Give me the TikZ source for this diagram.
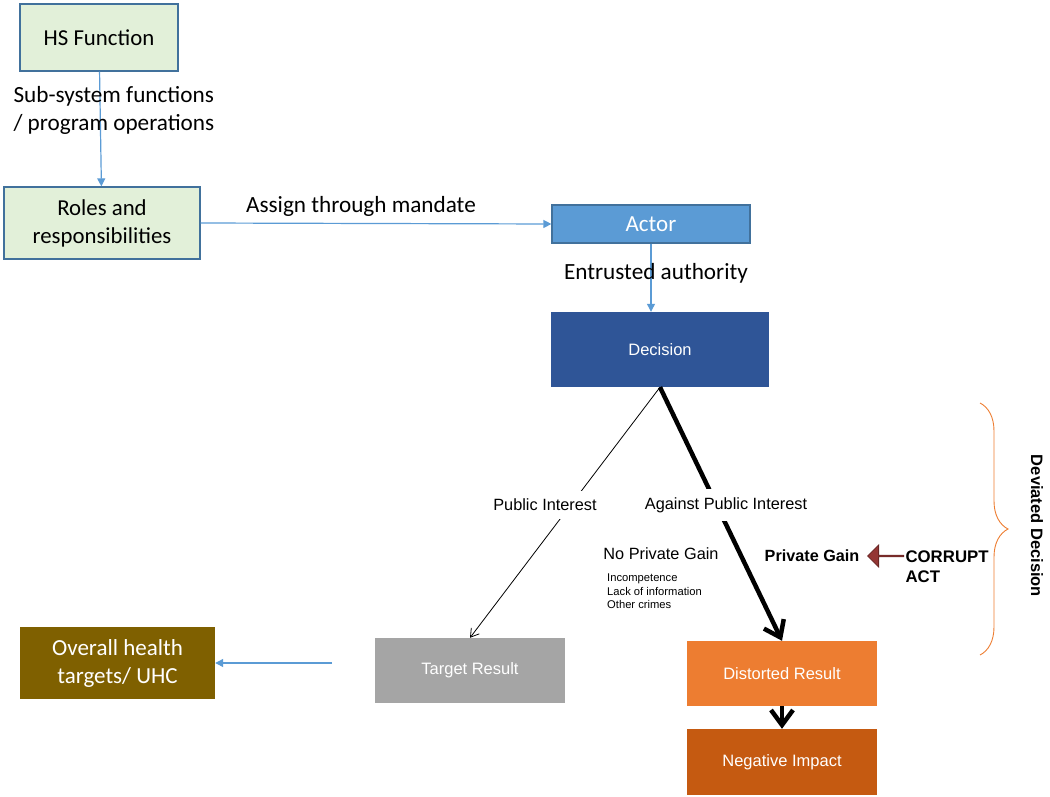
\documentclass[tikz,border=0pt]{standalone}
\usepackage{fontspec}
\setmainfont{Liberation Sans}
\newfontfamily\calfont{Carlito}
\usetikzlibrary{arrows.meta,decorations.pathreplacing,shapes.arrows}
\definecolor{gfill}{HTML}{E2F0D9}
\definecolor{bborder}{HTML}{41719C}
\definecolor{lblue}{HTML}{5B9BD5}
\definecolor{dblue}{HTML}{2F5597}
\definecolor{grey}{HTML}{A5A5A5}
\definecolor{orng}{HTML}{ED7D31}
\definecolor{dorng}{HTML}{C55A11}
\definecolor{olive}{HTML}{7F6000}
\definecolor{brick}{HTML}{943634}
\tikzset{
  greenbox/.style={draw=bborder, line width=1.2pt, fill=gfill, align=center, font=\calfont\fontsize{22.8}{28}\selectfont},
  solidbox/.style={fill=#1, text=white, align=center, font=\fontsize{16.5}{19}\selectfont},
  bluearrow/.style={draw=lblue, line width=1.2pt, -{Triangle[length=8pt,width=8pt]}},
  callabel/.style={font=\calfont\fontsize{23.2}{28}\selectfont, align=left},
  arlabel/.style={font=\fontsize{16.3}{19}\selectfont, fill=white, inner xsep=2pt, inner ysep=8pt},
  thickarrow/.style={line width=4.5pt, -{Straight Barb[length=15pt,width=22pt,line width=4.5pt]}},
}
\begin{document}
\begin{tikzpicture}[x=1pt,y=-1pt]
\useasboundingbox (0,0) rectangle (1050,797);
% boxes
\node[greenbox, minimum width=158, minimum height=67] (hs) at (99,37.5) {HS Function};
\node[greenbox, minimum width=196, minimum height=72] (roles) at (102,223) {Roles and\\responsibilities};
\node[draw=bborder, line width=1.2pt, fill=lblue, text=white, minimum width=198, minimum height=38, font=\calfont\fontsize{23}{25}\selectfont] (actor) at (651,224) {Actor};
\node[solidbox=dblue, minimum width=218, minimum height=75] (decision) at (660,349.5) {Decision};
\node[solidbox=grey, minimum width=190, minimum height=65] (target) at (470,670.5) {Target Result};
\node[solidbox=orng, minimum width=190, minimum height=65] (distorted) at (782,673.5) {Distorted Result};
\node[solidbox=dorng, minimum width=190, minimum height=66] (negative) at (782,762) {Negative Impact};
\node[fill=olive, text=white, align=center, minimum width=195, minimum height=72, font=\calfont\fontsize{23}{28}\selectfont] (overall) at (117.5,663) {Overall health\\targets/ UHC};
% connectors
\draw[bluearrow] (hs) -- (roles);
\draw[bluearrow] (roles.east) -- (actor.west);
\draw[bluearrow] (actor.south) -- (actor.south |- decision.north);
\draw[line width=0.8pt, -{Straight Barb[length=8pt,width=10pt]}] (decision.south) -- (target.north);
\draw[thickarrow] (decision.south) -- (distorted.north);
\draw[thickarrow] (distorted.south) -- (negative.north);
\coordinate (tstart) at (332,663);
\draw[bluearrow] (tstart) -- (overall.east);
% labels
\node[callabel, anchor=west] (sublbl) at (10,110) {Sub-system functions\\/ program operations};
\node[callabel] (assign) at (361,206) {Assign through mandate};
\node[callabel] (entr) at (656,273) {Entrusted authority};
\node[arlabel] (pi) at (545,505) {Public Interest};
\node[arlabel] (api) at (726,505) {Against Public Interest};
\node[font=\fontsize{16.3}{19}\selectfont] (npg) at (661,554) {No Private Gain};
\node[anchor=north west, align=left, inner sep=0pt, font=\fontsize{11.2}{13.5}\selectfont] (causes) at (607,574) {Incompetence\\Lack of information\\Other crimes};
\node[font=\bfseries\fontsize{16.2}{19}\selectfont] (pg) at (812,556) {Private Gain};
\node[anchor=west, align=left, font=\bfseries\fontsize{16.8}{20}\selectfont] (ca) at (902,567) {CORRUPT\\ACT};
\node[single arrow, shape border rotate=180, fill=brick, draw=brick!70!black, line width=0.8pt, minimum height=36, minimum width=22, inner sep=0pt, single arrow head extend=5pt] (blk) at (886,556) {};
% brace
\draw[orng, line width=0.9pt, decorate, decoration={brace, amplitude=28pt, aspect=0.5}] (980,403) -- (980,655);
\node[rotate=-90, font=\bfseries\fontsize{16.5}{20}\selectfont] (dd) at (1037,526) {Deviated Decision};
\end{tikzpicture}
\end{document}
